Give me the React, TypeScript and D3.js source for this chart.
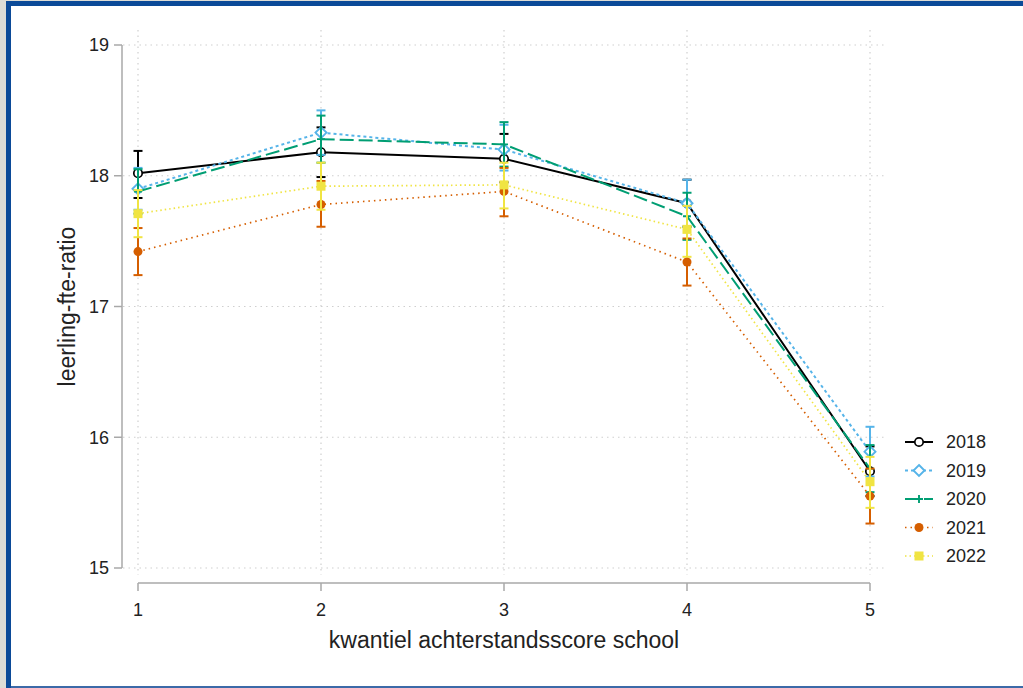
import React from "react";
import * as d3 from "d3";

const quantiles = [1, 2, 3, 4, 5];
const years = ["2018", "2019", "2020", "2021", "2022"];

const mean2018 = [18.02, 18.18, 18.13, 17.79, 15.74];
const lo2018 = [17.83, 17.99, 17.95, 17.61, 15.55];
const hi2018 = [18.19, 18.37, 18.32, 17.97, 15.93];

const mean2019 = [17.9, 18.33, 18.2, 17.79, 15.89];
const lo2019 = [17.74, 18.16, 18.04, 17.61, 15.7];
const hi2019 = [18.06, 18.5, 18.39, 17.97, 16.08];

const mean2020 = [17.88, 18.28, 18.24, 17.69, 15.76];
const lo2020 = [17.71, 18.1, 18.07, 17.51, 15.58];
const hi2020 = [18.05, 18.46, 18.41, 17.87, 15.94];

const mean2021 = [17.42, 17.78, 17.88, 17.34, 15.55];
const lo2021 = [17.24, 17.61, 17.69, 17.16, 15.34];
const hi2021 = [17.6, 17.96, 18.06, 17.52, 15.76];

const mean2022 = [17.71, 17.92, 17.93, 17.59, 15.66];
const lo2022 = [17.53, 17.74, 17.75, 17.38, 15.46];
const hi2022 = [17.89, 18.1, 18.1, 17.77, 15.85];

const yTicks = [15, 16, 17, 18, 19];

const seriesStyle = [
  { color: "#000000", dash: "none", width: 2, marker: "circle" },
  { color: "#56B4E9", dash: "3,3", width: 2, marker: "diamond" },
  { color: "#009E73", dash: "14,5", width: 2, marker: "plus" },
  { color: "#D55E00", dash: "1.5,4", width: 1.7, marker: "dot" },
  { color: "#F0E442", dash: "1.5,3", width: 1.7, marker: "square" },
];

const means = [mean2018, mean2019, mean2020, mean2021, mean2022];
const los = [lo2018, lo2019, lo2020, lo2021, lo2022];
const his = [hi2018, hi2019, hi2020, hi2021, hi2022];

function Marker({ type, x, y, color }: { type: string; x: number; y: number; color: string }) {
  if (type === "circle")
    return <circle cx={x} cy={y} r={4.2} fill="white" stroke={color} strokeWidth={1.7} />;
  if (type === "diamond")
    return (
      <path
        d={`M${x},${y - 5.5}L${x + 5.5},${y}L${x},${y + 5.5}L${x - 5.5},${y}Z`}
        fill="white"
        stroke={color}
        strokeWidth={1.9}
      />
    );
  if (type === "plus")
    return (
      <path d={`M${x - 4},${y}H${x + 4}M${x},${y - 4}V${y + 4}`} stroke={color} strokeWidth={1.9} />
    );
  if (type === "dot") return <circle cx={x} cy={y} r={4.5} fill={color} />;
  return <rect x={x - 4.5} y={y - 4.5} width={9} height={9} fill={color} />;
}

export default function App() {
  const W = 1023;
  const H = 688;
  const x = d3.scaleLinear().domain([1, 5]).range([138, 870]);
  const y = d3.scaleLinear().domain([15, 19]).range([568, 45]);
  const line = d3
    .line<number>()
    .x((_, i) => x(quantiles[i]))
    .y((d) => y(d));
  const font = "Liberation Sans, Arial, sans-serif";
  const axisColor = "#a8a8a8";
  const gridColor = "#cfcfcf";

  return (
    <svg
      width={W}
      height={H}
      style={{ position: "absolute", left: 0, top: 0, background: "#dcdcd6" }}
      fontFamily={font}
    >
      <rect x={6} y={1} width={W} height={H} fill="#0b4a98" />
      <rect x={11} y={6} width={W} height={680} fill="white" />
      <rect x={11} y={686} width={W} height={2} fill="#3c6aa8" />

      {/* grid */}
      {yTicks.map((t) => (
        <line
          key={"gy" + t}
          x1={123}
          x2={885}
          y1={y(t)}
          y2={y(t)}
          stroke={gridColor}
          strokeWidth={1.2}
          strokeDasharray="1.5,4"
        />
      ))}
      {quantiles.map((q) => (
        <line
          key={"gx" + q}
          x1={x(q)}
          x2={x(q)}
          y1={30}
          y2={575}
          stroke={gridColor}
          strokeWidth={1.2}
          strokeDasharray="1.5,4"
        />
      ))}

      {/* y axis */}
      <line x1={122} x2={122} y1={y(19)} y2={y(15)} stroke={axisColor} strokeWidth={1.5} />
      {yTicks.map((t) => (
        <g key={"yt" + t}>
          <line x1={114} x2={122} y1={y(t)} y2={y(t)} stroke={axisColor} strokeWidth={1.5} />
          <text x={109} y={y(t)} dy="0.35em" textAnchor="end" fontSize={18} fill="#222">
            {t}
          </text>
        </g>
      ))}
      {/* x axis */}
      <line x1={x(1)} x2={x(5)} y1={583} y2={583} stroke={axisColor} strokeWidth={1.5} />
      {quantiles.map((q) => (
        <g key={"xt" + q}>
          <line x1={x(q)} x2={x(q)} y1={583} y2={591} stroke={axisColor} strokeWidth={1.5} />
          <text x={x(q)} y={616} textAnchor="middle" fontSize={18} fill="#222">
            {q}
          </text>
        </g>
      ))}

      <text
        transform={`translate(75,${(y(15) + y(19)) / 2}) rotate(-90)`}
        textAnchor="middle"
        fontSize={23}
        fill="#222"
      >
        leerling-fte-ratio
      </text>
      <text x={504} y={648} textAnchor="middle" fontSize={23} fill="#222">
        kwantiel achterstandsscore school
      </text>

      {/* series */}
      {years.map((yr, si) => {
        const s = seriesStyle[si];
        return (
          <g key={yr}>
            {quantiles.map((q, i) => (
              <g key={q}>
                <line
                  x1={x(q)}
                  x2={x(q)}
                  y1={y(los[si][i])}
                  y2={y(his[si][i])}
                  stroke={s.color}
                  strokeWidth={2}
                />
                <line x1={x(q) - 4.5} x2={x(q) + 4.5} y1={y(los[si][i])} y2={y(los[si][i])} stroke={s.color} strokeWidth={2} />
                <line x1={x(q) - 4.5} x2={x(q) + 4.5} y1={y(his[si][i])} y2={y(his[si][i])} stroke={s.color} strokeWidth={2} />
              </g>
            ))}
            <path
              d={line(means[si]) || ""}
              fill="none"
              stroke={s.color}
              strokeWidth={s.width}
              strokeDasharray={s.dash}
            />
            {quantiles.map((q, i) => (
              <Marker key={"m" + q} type={s.marker} x={x(q)} y={y(means[si][i])} color={s.color} />
            ))}
          </g>
        );
      })}

      {/* legend */}
      {years.map((yr, si) => {
        const s = seriesStyle[si];
        const ly = 442 + si * 28.5;
        return (
          <g key={"lg" + yr}>
            <line x1={905} x2={933} y1={ly} y2={ly} stroke={s.color} strokeWidth={s.width} strokeDasharray={s.dash} />
            <Marker type={s.marker} x={919} y={ly} color={s.color} />
            <text x={946} y={ly} dy="0.35em" fontSize={18} fill="#222">
              {yr}
            </text>
          </g>
        );
      })}
    </svg>
  );
}
